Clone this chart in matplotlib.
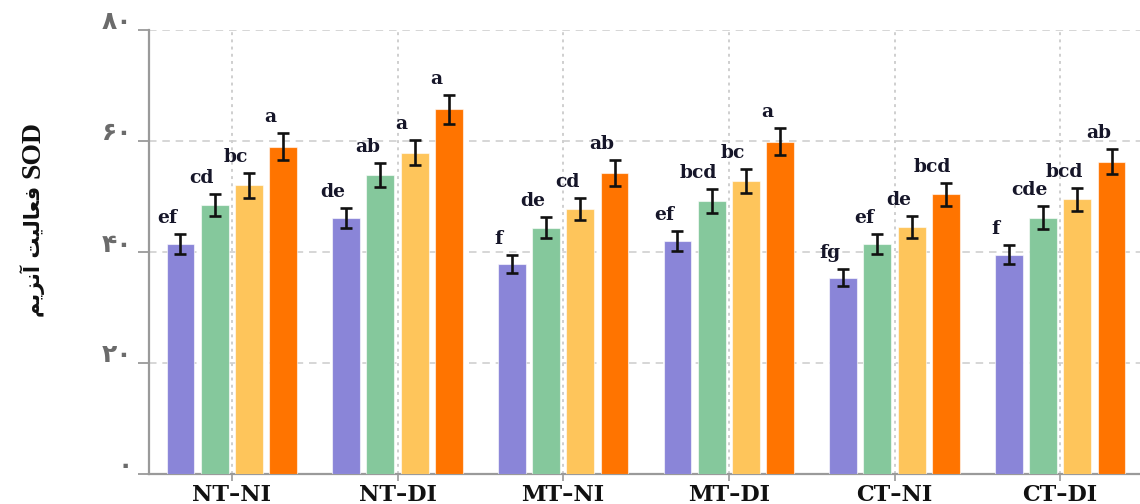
import matplotlib
matplotlib.use("Agg")
import matplotlib.pyplot as plt
from matplotlib.transforms import ScaledTranslation
import numpy as np

# Treatment groups (tillage x irrigation)
groups = ["NT–NI", "NT–DI", "MT–NI", "MT–DI", "CT–NI", "CT–DI"]

# SOD activity for the four levels within each group
level1 = [41.4, 46.1, 37.9, 42.0, 35.4, 39.5]
level2 = [48.5, 53.9, 44.4, 49.2, 41.4, 46.2]
level3 = [52.0, 57.9, 47.7, 52.8, 44.5, 49.5]
level4 = [59.0, 65.7, 54.2, 59.9, 50.4, 56.3]

# Standard errors
err1 = [1.8, 1.8, 1.6, 1.8, 1.5, 1.7]
err2 = [2.0, 2.2, 1.9, 2.1, 1.8, 2.0]
err3 = [2.2, 2.3, 2.0, 2.1, 1.9, 2.1]
err4 = [2.4, 2.6, 2.3, 2.4, 2.1, 2.3]

# Mean-separation letters
letters1 = ["ef", "de", "f", "ef", "fg", "f"]
letters2 = ["cd", "ab", "de", "bcd", "ef", "cde"]
letters3 = ["bc", "a", "cd", "bc", "de", "bcd"]
letters4 = ["a", "a", "ab", "a", "bcd", "ab"]

# Y ticks with Persian digits
ytick_values = [0, 20, 40, 60, 80]
ytick_labels = ["۰", "۲۰", "۴۰", "۶۰", "۸۰"]

# Y-axis title: pre-shaped Persian in visual order, then "SOD"
ylabel_fa = "\uFEE2\uFEF3\uFEB0\uFEE7\uFE81 \uFE96\uFEF4\uFEDF\uFE8E\uFECC\uFED3"
ylabel_en = "SOD"

colors = ["#8A85D8", "#85C89C", "#FEC55B", "#FF7400"]

series = [level1, level2, level3, level4]
errors = [err1, err2, err3, err4]
letters = [letters1, letters2, letters3, letters4]

fig = plt.figure(figsize=(11.4, 5.04), dpi=100)
ax = fig.add_axes([149 / 1140, 30 / 504, 994 / 1140, 444 / 504])

x = np.arange(len(groups))
offsets = [-0.31, -0.104, 0.104, 0.31]
width = 0.168

for vals, errs, labs, off, col in zip(series, errors, letters, offsets, colors):
    pos = x + off
    ax.bar(pos, vals, width=width, color=col, edgecolor=(1, 1, 1, 0.6),
           linewidth=0.8, zorder=3)
    ax.errorbar(pos, vals, yerr=errs, fmt="none", ecolor="#111111",
                elinewidth=1.9, capsize=4.6, capthick=1.9, zorder=4)
    for p, v, e, t in zip(pos, vals, errs, labs):
        ax.annotate(t, xy=(p, v + e), xytext=(-13, 11),
                    textcoords="offset pixels", ha="center", va="baseline",
                    fontsize=13.5, fontweight="bold", family="DejaVu Serif",
                    color="#161629", zorder=5)

ax.set_xlim(-0.5, 5.5)
ax.set_ylim(0, 80)

ax.set_xticks(x)
ax.set_xticklabels(groups, fontsize=16, fontweight="bold", family="DejaVu Serif",
                   color="#111111")
ax.set_yticks(ytick_values)
ax.set_yticklabels(ytick_labels, fontsize=18, fontweight="bold",
                   family="DejaVu Sans", color="#6b6b6b")

ax.tick_params(axis="y", direction="out", length=8, width=1.3, color="#9a9a9a", pad=4)
ax.tick_params(axis="x", direction="out", length=5, width=1.2, color="#9a9a9a", pad=2)

# lift the y tick labels above their ticks
shift = ScaledTranslation(0, 0.10, fig.dpi_scale_trans)
for lab in ax.get_yticklabels():
    lab.set_transform(lab.get_transform() + shift)

# grid: dashed horizontal, dotted vertical
ax.yaxis.grid(True, color="#cfcfcf", linewidth=1.2, linestyle=(0, (4.5, 3.5)), zorder=0)
ax.xaxis.grid(True, color="#cfcfcf", linewidth=1.4, linestyle=(0, (1.5, 2.2)), zorder=0)
ax.set_axisbelow(True)

for side in ["top", "right"]:
    ax.spines[side].set_visible(False)
for side in ["left", "bottom"]:
    ax.spines[side].set_color("#9a9a9a")
    ax.spines[side].set_linewidth(1.6)

# axis title: Persian part (bottom) and "SOD" (top), rotated
fig.text(33 / 1140, 1 - 251 / 504, ylabel_fa, rotation=90, ha="center", va="center",
         fontsize=15, fontweight="bold", family="DejaVu Sans", color="#111111")
fig.text(33 / 1140, 1 - 150 / 504, ylabel_en, rotation=90, ha="center", va="center",
         fontsize=20, fontweight="bold", family="Liberation Serif", color="#111111")

fig.savefig("out.png", dpi=100)
